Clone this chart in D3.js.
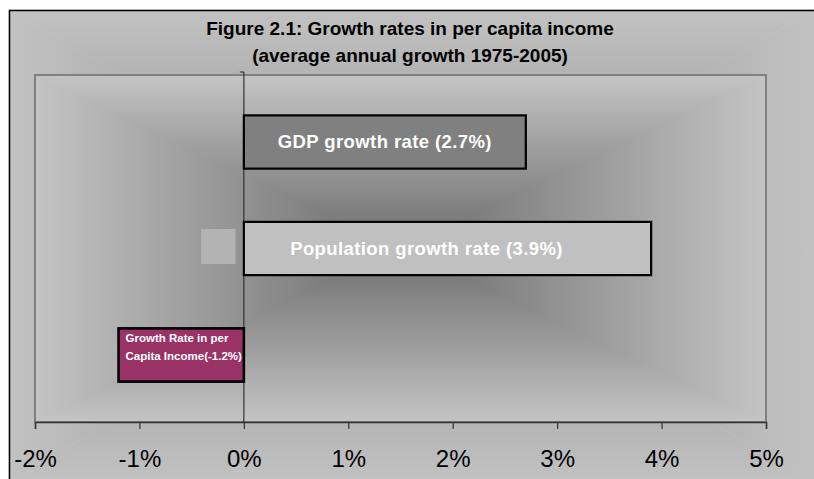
<!DOCTYPE html>
<html lang="en">
	<head>
		<meta charset="utf-8">
		<title>Figure 2.1: Growth rates in per capita income</title>
		<script type="text/javascript" src="https://cdn.jsdelivr.net/npm/d3@7"></script>
		<style type="text/css">
			body { margin: 0; background: #ffffff; }
			svg { display: block; }
			text { font-family: "Liberation Sans", Arial, sans-serif; }
		</style>
	</head>
	<body>
		<script type="text/javascript">

		// chart data
		var categories = ["GDP growth rate", "Population growth rate", "Growth Rate in per Capita Income"];
		var values = [2.7, 3.9, -1.2];
		var barLabels = [["GDP growth rate (2.7%)"], ["Population growth rate (3.9%)"], ["Growth Rate in per", "Capita Income(-1.2%)"]];
		var tickValues = [-2, -1, 0, 1, 2, 3, 4, 5];
		var titleLines = ["Figure 2.1: Growth rates in per capita income", "(average annual growth 1975-2005)"];

		var w = 814, h = 479;
		var barColors = ["#808080", "#c0c0c0", "#993366"];
		var plotLeft = 35, plotRight = 766, plotTop = 75, plotBottom = 422;

		var svg = d3.select("body")
				  .append("svg")
				  .attr("width", w)
				  .attr("height", h);

		var defs = svg.append("defs");

		// rectangular "from center" gradient made of four triangles
		function centerGradient(id, x0, y0, x1, y1, edge, mid) {
			var cx = (x0 + x1) / 2, cy = (y0 + y1) / 2;
			var parts = [
				{ pts: [[x0, y0], [x1, y0], [cx, cy]], g: [x0, y0, x0, cy] },
				{ pts: [[x0, y1], [x1, y1], [cx, cy]], g: [x0, y1, x0, cy] },
				{ pts: [[x0, y0], [x0, y1], [cx, cy]], g: [x0, y0, cx, y0] },
				{ pts: [[x1, y0], [x1, y1], [cx, cy]], g: [x1, y0, cx, y0] }
			];
			var grp = svg.append("g");
			parts.forEach(function(p, i) {
				var lg = defs.append("linearGradient")
					.attr("id", id + i)
					.attr("gradientUnits", "userSpaceOnUse")
					.attr("x1", p.g[0]).attr("y1", p.g[1])
					.attr("x2", p.g[2]).attr("y2", p.g[3]);
				lg.append("stop").attr("offset", "0%").attr("stop-color", edge);
				lg.append("stop").attr("offset", "100%").attr("stop-color", mid);
				grp.append("polygon")
					.attr("points", p.pts.map(function(d) { return d.join(","); }).join(" "))
					.attr("fill", "url(#" + id + i + ")")
					.attr("stroke", "url(#" + id + i + ")")
					.attr("stroke-width", 0.6);
			});
			return grp;
		}

		// outer chart area
		centerGradient("outer", 9, 10, 814, 482, "#c2c2c2", "#8c8c8c");
		svg.append("path")
			.attr("d", "M9.5,482V10.5H814")
			.attr("fill", "none")
			.attr("stroke", "#000")
			.attr("stroke-width", 1.5);

		// plot area
		centerGradient("plot", plotLeft, plotTop, plotRight, plotBottom, "#c4c4c4", "#6c6c6c");
		svg.append("rect")
			.attr("x", plotLeft)
			.attr("y", plotTop)
			.attr("width", plotRight - plotLeft)
			.attr("height", plotBottom - plotTop)
			.attr("fill", "none")
			.attr("stroke", "#808080")
			.attr("stroke-width", 2);

		var x = d3.scaleLinear()
				  .domain([-2, 5])
				  .range([plotLeft, plotRight]);

		var y = d3.scaleBand()
				  .domain(categories)
				  .range([88.75, 408.25])
				  .paddingInner(0.5)
				  .paddingOuter(0.25);

		// x axis
		var xAxis = d3.axisBottom(x)
				  .tickValues(tickValues)
				  .tickSize(7)
				  .tickFormat(function(d) { return d + "%"; });

		var gx = svg.append("g")
				  .attr("transform", "translate(0," + plotBottom + ")")
				  .call(xAxis);
		gx.select(".domain").attr("stroke", "#333").attr("stroke-width", 1.5);
		gx.selectAll(".tick line").attr("stroke", "#333").attr("stroke-width", 1.2);
		gx.selectAll(".tick text")
		  .attr("y", 28)
		  .attr("dy", "0.71em")
		  .attr("fill", "#000")
		  .attr("font-size", "24px")
		  .attr("font-family", "Liberation Sans, Arial, sans-serif");

		// zero line
		svg.append("line")
			.attr("x1", x(0)).attr("x2", x(0))
			.attr("y1", plotTop - 3).attr("y2", plotBottom)
			.attr("stroke", "#333")
			.attr("stroke-width", 1.2);
		svg.append("line")
			.attr("x1", x(0) - 4).attr("x2", x(0))
			.attr("y1", plotTop - 3).attr("y2", plotTop - 3)
			.attr("stroke", "#333")
			.attr("stroke-width", 1.2);

		// small grey box left of the population bar
		svg.append("rect")
			.attr("x", x(-0.41))
			.attr("y", y(categories[1]) + y.bandwidth() / 2 - 19.5)
			.attr("width", x(-0.08) - x(-0.41))
			.attr("height", 35)
			.attr("fill", "#b3b3b3");

		// bars
		svg.selectAll("rect.bar")
			.data(values)
			.enter()
			.append("rect")
			.attr("class", "bar")
			.attr("x", function(d) { return x(Math.min(0, d)); })
			.attr("y", function(d, i) { return y(categories[i]); })
			.attr("width", function(d) { return Math.abs(x(d) - x(0)); })
			.attr("height", y.bandwidth())
			.attr("fill", function(d, i) { return barColors[i]; })
			.attr("stroke", "#000")
			.attr("stroke-width", function(d, i) { return i == 2 ? 2.6 : 2.2; });

		// labels inside bars
		var labelShift = [0, -21];
		barLabels.forEach(function(lines, i) {
			var yc = y(categories[i]) + y.bandwidth() / 2;
			if (lines.length == 1) {
				svg.append("text")
					.attr("x", (x(0) + x(values[i])) / 2 + labelShift[i])
					.attr("y", yc + 6)
					.attr("text-anchor", "middle")
					.attr("font-size", "18.5px")
					.attr("font-weight", "bold")
					.attr("letter-spacing", "0.4px")
					.attr("fill", "#fff")
					.text(lines[0]);
			} else {
				svg.selectAll("text.small")
					.data(lines)
					.enter()
					.append("text")
					.attr("x", x(values[i]) + 7)
					.attr("y", function(d, j) { return y(categories[i]) + 14 + j * 17.5; })
					.attr("font-size", "11.5px")
					.attr("font-weight", "bold")
					.attr("fill", "#fff")
					.text(function(d) { return d; });
			}
		});

		// title
		svg.selectAll("text.title")
			.data(titleLines)
			.enter()
			.append("text")
			.attr("class", "title")
			.attr("x", 410)
			.attr("y", function(d, i) { return 35 + i * 27; })
			.attr("text-anchor", "middle")
			.attr("font-size", "19px")
			.attr("font-weight", "bold")
			.attr("fill", "#000")
			.text(function(d) { return d; });
		</script>
	</body>
</html>
